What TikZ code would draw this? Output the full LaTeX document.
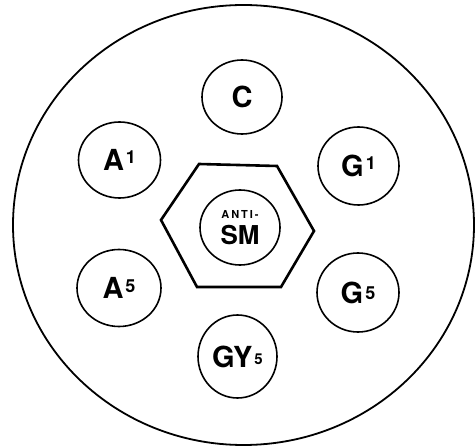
\documentclass[tikz,border=0pt]{standalone}
\usepackage{fontspec}
\setmainfont{TeX Gyre Heros}
\newfontfamily\spacedfont[LetterSpace=18]{TeX Gyre Heros}
\usetikzlibrary{shapes.geometric}
\newcommand{\welllabel}[3]{#1\kern2pt\raisebox{#3}{\fontsize{18}{18}\selectfont #2}}
\begin{document}
\begin{tikzpicture}[x=1pt, y=1pt, every node/.style={font=\fontsize{29}{29}\selectfont\bfseries},
  well/.style={draw, ellipse, line width=1.6pt, inner sep=0pt}]
  \useasboundingbox (0,0) rectangle (476,447);
  % plate
  \draw[line width=1.8pt] (243.5,222) ellipse [x radius=230.5, y radius=220];
  % centre well and its hexagon
  \draw[line width=2.6pt] (199,283) -- (277,281) -- (314,216) -- (281,160) -- (197,160) -- (161,227) -- cycle;
  \node[well, minimum width=80pt, minimum height=75pt, align=center] (sm) at (240,219.5)
    {{\fontsize{11}{11}\selectfont\spacedfont\bfseries ANTI-}\\[-3pt]{\fontsize{26}{26}\selectfont SM}};
  % outer wells
  \node[well, minimum width=80pt, minimum height=74pt] (c) at (242,350) {C};
  \node[well, minimum width=82pt, minimum height=76pt] (a1) at (119.5,287) {\welllabel{A}{1}{7pt}};
  \node[well, minimum width=81pt, minimum height=78pt] (g1) at (358.5,281) {\welllabel{G}{1}{7pt}};
  \node[well, minimum width=84pt, minimum height=77pt] (a5) at (119,159) {\welllabel{A}{5}{6.5pt}};
  \node[well, minimum width=82pt, minimum height=79pt] (g5) at (358,154.5) {\welllabel{G}{5}{4pt}};
  \node[well, minimum width=79pt, minimum height=83pt] (gy5) at (237.5,90.5) {GY\kern2pt\raisebox{3pt}{\fontsize{15}{15}\selectfont 5}};
\end{tikzpicture}
\end{document}
